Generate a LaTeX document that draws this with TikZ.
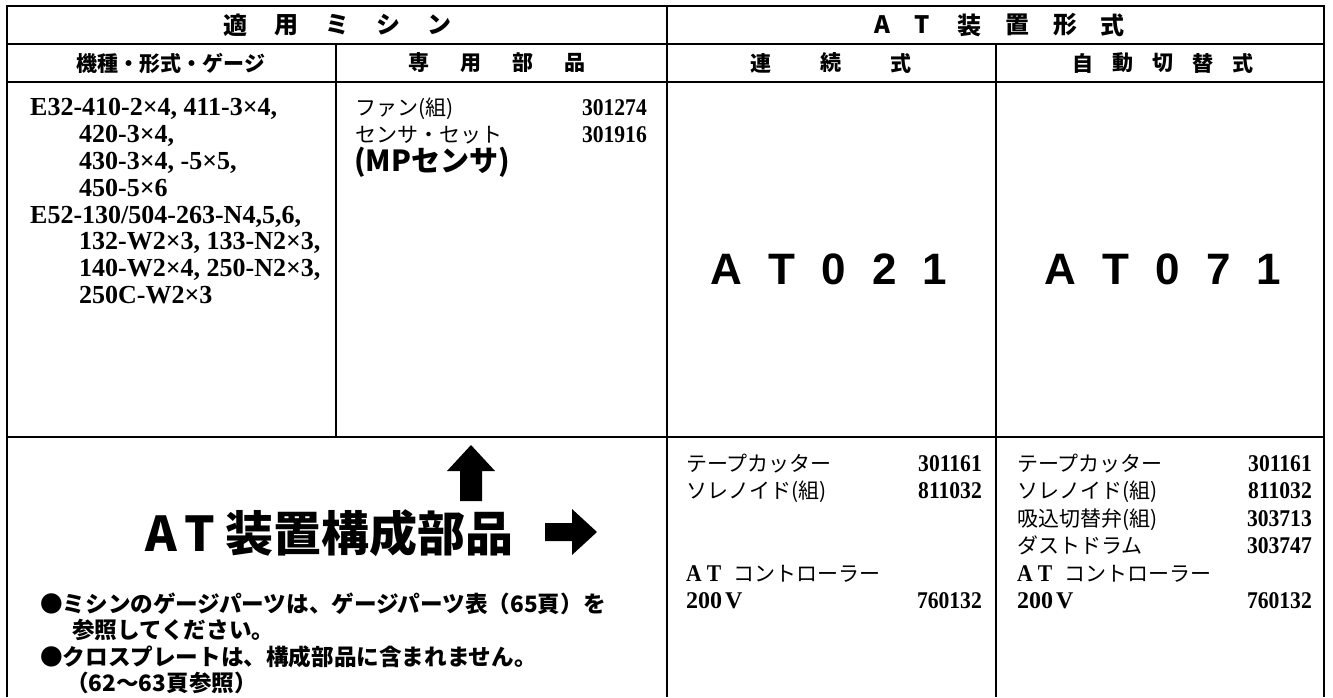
\documentclass[tikz,border=0pt]{standalone}
\usepackage{fontspec}
\setmainfont{Liberation Serif}
\newfontfamily\jpfont{Noto Sans CJK JP}
\newfontfamily\numfont[FakeStretch=0.9]{Liberation Serif}
\newfontfamily\modelfont{Liberation Sans}
\usetikzlibrary{positioning}

\begin{document}
\begin{tikzpicture}[x=1pt,y=-1pt]
		\tikzstyle{every node}=[inner sep=0pt]
		\tikzstyle{hdrA}=[font=\jpfont\bfseries\fontsize{24}{28}\selectfont]
		\tikzstyle{hdrB}=[font=\jpfont\bfseries\fontsize{21}{25}\selectfont]
		\tikzstyle{jp}=[font=\jpfont\fontsize{21}{25}\selectfont, anchor=base west]
		\tikzstyle{ser}=[font=\bfseries\fontsize{26}{30}\selectfont, anchor=base west]
		\tikzstyle{nr}=[font=\numfont\bfseries\fontsize{24}{28}\selectfont, anchor=base east]
		\tikzstyle{model}=[font=\modelfont\bfseries\fontsize{44}{48}\selectfont, anchor=base]
		\tikzstyle{note}=[font=\jpfont\bfseries\fontsize{22.6}{26}\selectfont, anchor=base west]
		\useasboundingbox (0,0) rectangle (1333,697);
		% frame and rules
		\draw [line width=2.4pt] (7,697) -- (7,6) -- (1324,6) -- (1324,697);
		\draw [line width=1.2pt] (7,44) -- (1324,44);
		\draw [line width=1.2pt] (7,82) -- (1324,82);
		\draw [line width=1.6pt] (7,437) -- (1324,437);
		\draw [line width=1.2pt] (336,44) -- (336,437);
		\draw [line width=1.4pt] (667,6) -- (667,697);
		\draw [line width=1.2pt] (996,44) -- (996,697);
		% header rows
		\foreach \x/\c [count=\i] in {235/適,286/用,337/ミ,388/シ,439/ン}
			\node [hdrA] (ha\i) at (\x,25) {\c};
		\foreach \x/\c [count=\i] in {882/A,922/T,969/装,1017/置,1065/形,1112/式}
			\node [hdrA] (hb\i) at (\x,25) {\c};
		\node [hdrB] (kishu) at (171,63) {機種・形式・ゲージ};
		\foreach \x/\c [count=\i] in {419/専,471/用,523/部,575/品}
			\node [hdrB] (sen\i) at (\x,63) {\c};
		\foreach \x/\c [count=\i] in {761/連,831/続,901/式}
			\node [hdrB] (ren\i) at (\x,63) {\c};
		\foreach \x/\c [count=\i] in {1083/自,1123/動,1163/切,1203/替,1243/式}
			\node [hdrB] (ji\i) at (\x,63) {\c};
		% machines
		\foreach \x/\t [count=\i] in {30/{E32-410-2×4, 411-3×4,},79/{420-3×4,},79/{430-3×4, -5×5,},79/{450-5×6},30/{E52-130/504-263-N4,5,6,},79/{132-W2×3, 133-N2×3,},79/{140-W2×4, 250-N2×3,},79/{250C-W2×3}}
			\node [ser] (m\i) at (\x,89+26.8*\i) {\t};
		% special parts
		\node [jp] (fan) at (355,115) {ファン(組)};
		\node [nr] (fannr) at (647,115) {301274};
		\node [jp] (sensor) at (355,142) {センサ・セット};
		\node [nr] (sensornr) at (647,142) {301916};
		\node [font=\jpfont\bfseries\fontsize{29}{32}\selectfont, anchor=base west] (mp) at (354,171) {(MPセンサ)};
		% models
		\node [model] (at21) at (829,284) {A\hspace{26pt}T\hspace{26pt}0\hspace{26pt}2\hspace{26pt}1};
		\node [model] (at71) at (1163,284) {A\hspace{26pt}T\hspace{26pt}0\hspace{26pt}7\hspace{26pt}1};
		% parts, continuous
		\node [jp] (tc1) at (686,471) {テープカッター};
		\node [nr] (tc1nr) at (982,471) {301161};
		\node [jp] (sol1) at (686,498.5) {ソレノイド(組)};
		\node [nr] (sol1nr) at (982,498.5) {811032};
		\node [jp] (ctl1) at (686,581) {{\numfont\bfseries\fontsize{24}{28}\selectfont A\hspace{5pt}T}\hspace{12pt}コントローラー};
		\node [ser] (v1) at (686,608.5) {\fontsize{24}{28}\selectfont 200\hspace{3pt}V};
		\node [nr] (v1nr) at (982,608.5) {760132};
		% parts, automatic change-over
		\node [jp] (tc2) at (1017,471) {テープカッター};
		\node [nr] (tc2nr) at (1312,471) {301161};
		\node [jp] (sol2) at (1017,498.5) {ソレノイド(組)};
		\node [nr] (sol2nr) at (1312,498.5) {811032};
		\node [jp] (valve) at (1017,526) {吸込切替弁(組)};
		\node [nr] (valvenr) at (1312,526) {303713};
		\node [jp] (drum) at (1017,553.5) {ダストドラム};
		\node [nr] (drumnr) at (1312,553.5) {303747};
		\node [jp] (ctl2) at (1017,581) {{\numfont\bfseries\fontsize{24}{28}\selectfont A\hspace{5pt}T}\hspace{12pt}コントローラー};
		\node [ser] (v2) at (1017,608.5) {\fontsize{24}{28}\selectfont 200\hspace{3pt}V};
		\node [nr] (v2nr) at (1312,608.5) {760132};
		% component parts
		\fill (471,445) -- (495,471) -- (482,471) -- (482,501) -- (460,501) -- (460,471) -- (447,471) -- cycle;
		\node [font=\jpfont\bfseries\fontsize{48}{52}\selectfont, anchor=west] (kosei) at (145,533) {A\hspace{8pt}T\hspace{10pt}装置構成部品};
		\fill (597,532) -- (572,509) -- (572,523) -- (545,523) -- (545,541) -- (572,541) -- (572,555) -- cycle;
		\node [note] (n1) at (40,612) {●ミシンのゲージパーツは、ゲージパーツ表（65頁）を};
		\node [note] (n2) at (72,638) {参照してください。};
		\node [note] (n3) at (40,665) {●クロスプレートは、構成部品に含まれません。};
		\node [note] (n4) at (66,691) {（62〜63頁参照）};
\end{tikzpicture}
\end{document}
